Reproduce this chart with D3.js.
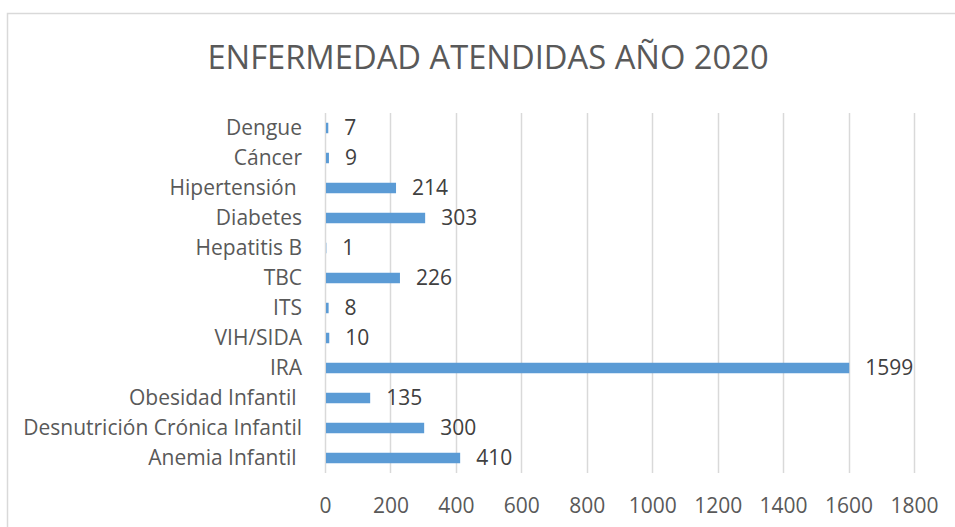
<!DOCTYPE html>
<html lang="es">
<head>
<meta charset="UTF-8">
<script src="https://d3js.org/d3.v7.min.js"></script>
<style>
    body { margin: 0; background: #fff; font-family: "Open Sans", Arial, sans-serif; }
    svg text { white-space: pre; }
</style>
</head>
<body>
<svg id="chart" width="955" height="527"></svg>
<script>
    // datos (de arriba hacia abajo)
    const enfermedades = ["Dengue", "Cáncer", "Hipertensión ", "Diabetes", "Hepatitis B", "TBC", "ITS", "VIH/SIDA", "IRA", "Obesidad Infantil ", "Desnutrición Crónica Infantil", "Anemia Infantil "];
    const casos = [7, 9, 214, 303, 1, 226, 8, 10, 1599, 135, 300, 410];
    const ticksX = [0, 200, 400, 600, 800, 1000, 1200, 1400, 1600, 1800];
    const titulo = "ENFERMEDAD ATENDIDAS AÑO 2020";

    const data = enfermedades.map((d, i) => ({ nombre: d, valor: casos[i] }));

    const margin = { top: 113, right: 41, bottom: 54, left: 325 },
          width = 955 - margin.left - margin.right,
          height = 527 - margin.top - margin.bottom;

    const root = d3.select("#chart");

    // marco del grafico
    root.append("rect")
        .attr("x", 7.5).attr("y", 13.5)
        .attr("width", 960).attr("height", 530)
        .attr("fill", "none")
        .attr("stroke", "#d9d9d9")
        .attr("stroke-width", 1.5);

    root.append("text")
        .attr("x", 488)
        .attr("y", 69)
        .attr("text-anchor", "middle")
        .style("font-size", "32.7px")
        .style("fill", "#595959")
        .text(titulo);

    const svg = root.append("g")
        .attr("transform", `translate(${margin.left},${margin.top})`);

    const x = d3.scaleLinear().domain([0, 1800]).range([0, width]);
    const y = d3.scaleBand().domain(enfermedades).range([0, height]).paddingInner(0.65).paddingOuter(0.325);
    const yRow = d3.scaleBand().domain(enfermedades).range([0, height]);

    // lineas de division
    svg.append("g")
        .selectAll("line")
        .data(ticksX)
        .enter().append("line")
        .attr("x1", d => Math.round(x(d)) + 0.5)
        .attr("x2", d => Math.round(x(d)) + 0.5)
        .attr("y1", 0)
        .attr("y2", height)
        .attr("stroke", "#d9d9d9")
        .attr("stroke-width", 1.5);

    const ejeX = svg.append("g")
        .attr("transform", `translate(0,${height})`)
        .call(d3.axisBottom(x).tickValues(ticksX).tickFormat(d3.format("d")).tickSize(0).tickPadding(25));
    ejeX.select(".domain").remove();
    ejeX.selectAll("text")
        .style("font-family", "'Open Sans', Arial, sans-serif")
        .style("font-size", "21px")
        .style("fill", "#595959");

    const ejeY = svg.append("g")
        .call(d3.axisLeft(yRow).tickSize(0).tickPadding(23));
    ejeY.select(".domain").remove();
    ejeY.selectAll("text")
        .style("font-family", "'Open Sans', Arial, sans-serif")
        .style("font-size", "21px")
        .style("fill", "#595959");

    svg.selectAll(".bar")
        .data(data)
        .enter().append("rect")
        .attr("class", "bar")
        .attr("x", x(0) + 1)
        .attr("y", d => y(d.nombre))
        .attr("width", d => x(d.valor))
        .attr("height", y.bandwidth())
        .attr("fill", "#5b9bd5");

    svg.selectAll(".label")
        .data(data)
        .enter().append("text")
        .attr("class", "label")
        .attr("x", d => x(d.valor) + 17)
        .attr("y", d => yRow(d.nombre) + yRow.bandwidth() / 2)
        .attr("dy", "0.35em")
        .style("font-size", "21px")
        .style("fill", "#404040")
        .text(d => d.valor);
</script>
</body>
</html>
